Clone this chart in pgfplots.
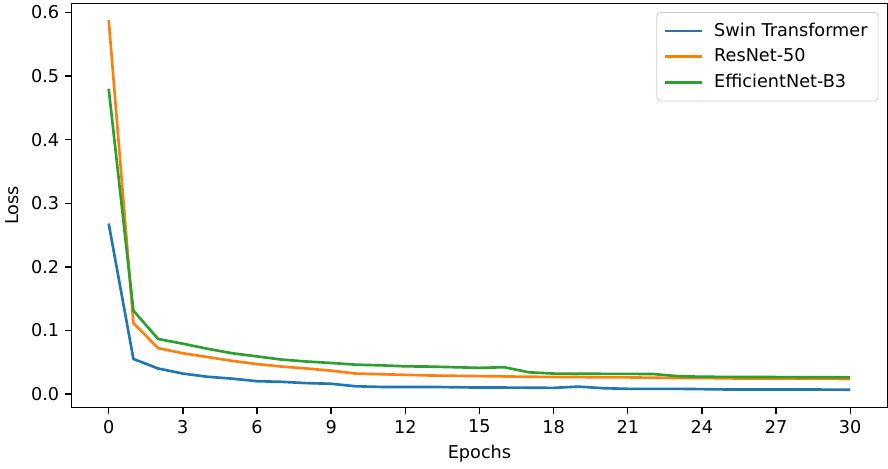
\documentclass[border=0pt]{standalone}
\usepackage{pgfplots}
\pgfplotsset{compat=1.18}
\usepackage{fontspec}
\setmainfont{DejaVu Sans}
\definecolor{tabblue}{HTML}{1F77B4}
\definecolor{taborange}{HTML}{FF7F0E}
\definecolor{tabgreen}{HTML}{2CA02C}
\begin{document}
\begin{tikzpicture}
\begin{axis}[
    scale only axis,
    width=462pt, height=229pt,
    xmin=-1.5, xmax=31.5,
    ymin=-0.0215, ymax=0.6146,
    xtick={0,3,...,30},
    ytick={0,0.1,0.2,0.3,0.4,0.5,0.6},
    yticklabel style={/pgf/number format/.cd, fixed, fixed zerofill, precision=1},
    /pgf/number format/assume math mode=true,
    tick align=outside, tick pos=left,
    major tick length=3.5pt,
    tick style={black, line width=0.8pt},
    axis line style={line width=0.8pt},
    ticklabel style={font=\fontsize{10}{12}\selectfont},
    label style={font=\fontsize{10}{12}\selectfont},
    xlabel={Epochs}, ylabel={Loss},
    legend style={at={(1,1)}, xshift=-5pt, yshift=-5pt, anchor=north east,
        draw=black!20, rounded corners=2pt, font=\fontsize{10}{12}\selectfont,
        inner xsep=4pt, inner ysep=4pt, row sep=1.5pt},
    legend cell align=left,
    legend image code/.code={\draw[#1] (0pt,0pt) -- (21pt,0pt); \path (25pt,0pt);},
    every axis plot/.append style={line width=1.5pt, line join=round},
]
\addplot[tabblue] table {
x y
0 0.268
1 0.055
2 0.040
3 0.032
4 0.027
5 0.024
6 0.020
7 0.019
8 0.017
9 0.016
10 0.012
11 0.011
12 0.011
13 0.011
14 0.0105
15 0.010
16 0.010
17 0.0098
18 0.0095
19 0.0115
20 0.009
21 0.008
22 0.008
23 0.008
24 0.0075
25 0.007
26 0.007
27 0.007
28 0.007
29 0.0068
30 0.0066
};
\addlegendentry{Swin Transformer}
\addplot[taborange] table {
x y
0 0.588
1 0.1115
2 0.072
3 0.064
4 0.058
5 0.052
6 0.047
7 0.043
8 0.040
9 0.0366
10 0.032
11 0.031
12 0.030
13 0.029
14 0.0285
15 0.028
16 0.0275
17 0.027
18 0.0267
19 0.0265
20 0.026
21 0.026
22 0.0255
23 0.025
24 0.025
25 0.0245
26 0.024
27 0.024
28 0.024
29 0.0237
30 0.0235
};
\addlegendentry{ResNet-50}
\addplot[tabgreen] table {
x y
0 0.480
1 0.131
2 0.0864
3 0.079
4 0.071
5 0.064
6 0.059
7 0.054
8 0.051
9 0.0487
10 0.046
11 0.045
12 0.0434
13 0.043
14 0.042
15 0.041
16 0.042
17 0.034
18 0.032
19 0.0318
20 0.0316
21 0.0315
22 0.0314
23 0.028
24 0.027
25 0.0268
26 0.0266
27 0.0265
28 0.0263
29 0.0262
30 0.026
};
\addlegendentry{EfficientNet-B3}
\end{axis}
\end{tikzpicture}
\end{document}
